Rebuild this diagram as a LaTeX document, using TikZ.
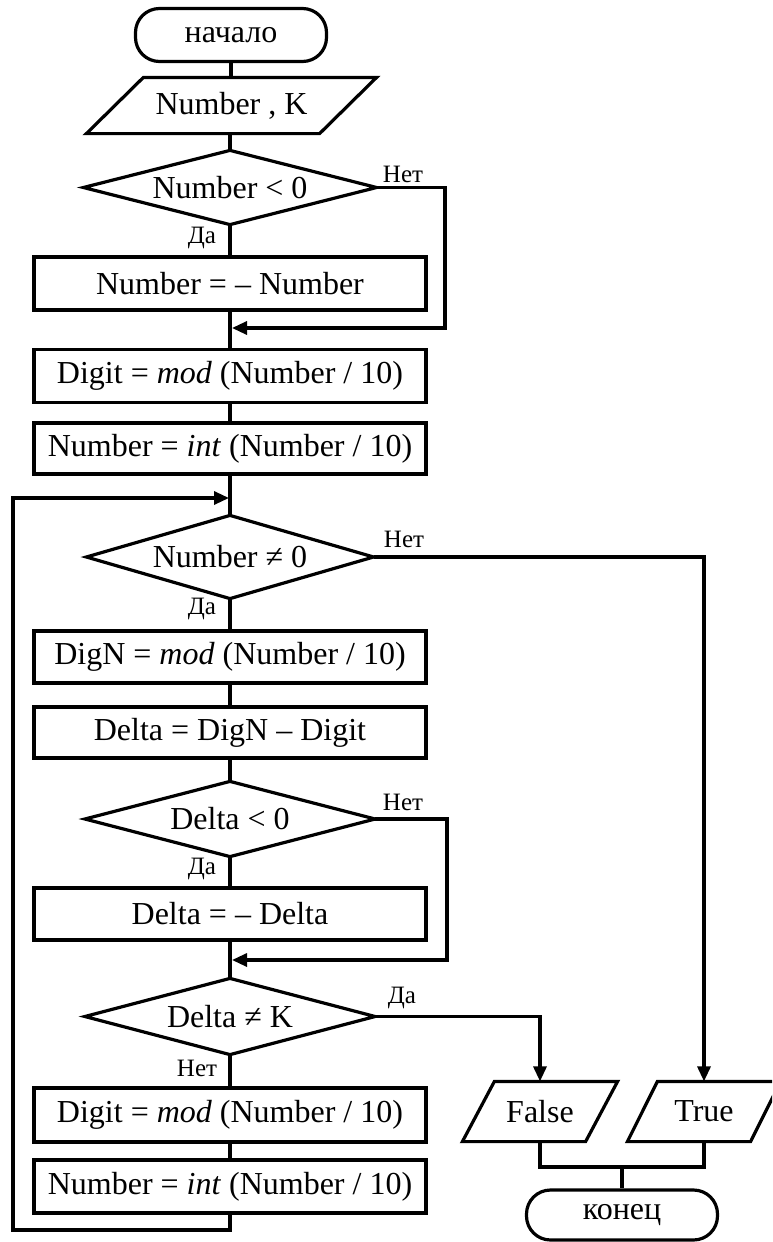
\documentclass[tikz,border=0pt]{standalone}
\usepackage{fontspec}
\setmainfont{Liberation Serif}
\usetikzlibrary{arrows.meta}
\begin{document}
\begin{tikzpicture}[x=1pt,y=-1pt,line width=3.2pt,
  every node/.style={font=\fontsize{32}{36}\selectfont,inner sep=0pt},
  proc/.style={draw,rectangle,minimum width=392pt,minimum height=53pt},
  term/.style={draw,rectangle,rounded corners=24pt,minimum width=191pt,minimum height=53pt},
  frame/.style={rectangle,minimum width=287pt,minimum height=72pt},
  lbl/.style={font=\fontsize{25}{28}\selectfont},
  arr/.style={-{Triangle[length=15pt,width=13pt]}}]
\useasboundingbox (0,0) rectangle (772,1242);
\begin{scope}
\clip (0,0) rectangle (772,1242);

% start and input
\node[term] (start) at (231,35) {начало};
\node[rectangle,minimum width=287pt,minimum height=53pt] (in) at (231.5,105.5) {Number , K};
\draw ([xshift=57pt]in.north west) -- (in.north east) -- ([xshift=-57pt]in.south east) -- (in.south west) -- cycle;

% first decision
\node[frame,minimum width=290pt,minimum height=71pt] (d1) at (230,187.5) {Number < 0};
\draw (d1.west) -- (d1.north) -- (d1.east) -- (d1.south) -- cycle;
\node[proc] (b1) at (230,283.5) {Number = – Number};
\node[proc] (b2) at (230,376) {Digit = \textit{mod} (Number / 10)};
\node[proc,minimum height=51pt] (b3) at (230,448.5) {Number = \textit{int} (Number / 10)};

% loop head
\node[frame,minimum width=284pt,minimum height=80pt] (d2) at (230,557) {Number ≠ 0};
\draw (d2.west) -- (d2.north) -- (d2.east) -- (d2.south) -- cycle;
\node[proc,minimum height=52pt] (b4) at (230,657) {DigN = \textit{mod} (Number / 10)};
\node[proc,minimum height=51pt] (b5) at (230,732.5) {Delta = DigN – Digit};
\node[frame] (d3) at (230,819) {Delta < 0};
\draw (d3.west) -- (d3.north) -- (d3.east) -- (d3.south) -- cycle;
\node[proc,minimum height=52pt] (b6) at (230,914) {Delta = – Delta};
\node[frame,minimum height=73pt] (d4) at (230,1016.5) {Delta ≠ K};
\draw (d4.west) -- (d4.north) -- (d4.east) -- (d4.south) -- cycle;
\node[proc,minimum height=54pt] (b7) at (230,1115) {Digit = \textit{mod} (Number / 10)};
\node[proc] (b8) at (230,1186.5) {Number = \textit{int} (Number / 10)};

% outputs and end
\node[rectangle,minimum width=152pt,minimum height=57pt] (f) at (540,1111.5) {False};
\draw ([xshift=32pt]f.north west) -- (f.north east) -- ([xshift=-32pt]f.south east) -- (f.south west) -- cycle;
\node[rectangle,minimum width=150pt,minimum height=57pt] (t) at (704,1111.5) {True};
\draw ([xshift=30pt]t.north west) -- (t.north east) -- ([xshift=-30pt]t.south east) -- (t.south west) -- cycle;
\node[term,minimum height=50pt] (end) at (622,1215) {конец};

% branch labels
\node[lbl] (n1) at (403,174) {Нет};
\node[lbl] (y1) at (202,238) {Да};
\node[lbl] (n2) at (404,539) {Нет};
\node[lbl] (y2) at (202,609) {Да};
\node[lbl] (n3) at (403,802) {Нет};
\node[lbl] (y3) at (202,869) {Да};
\node[lbl] (y4) at (402,998) {Да};
\node[lbl] (n4) at (197,1068) {Нет};

% main flow
\draw (start.south) -- (in.north -| start.south);
\draw (in.south -| d1.north) -- (d1.north);
\draw (d1.south) -- (b1.north);
\draw (b1.south) -- (b2.north);
\draw (b2.south) -- (b3.north);
\draw (b3.south) -- (d2.north);
\draw (d2.south) -- (b4.north);
\draw (b4.south) -- (b5.north);
\draw (b5.south) -- (d3.north);
\draw (d3.south) -- (b6.north);
\draw (b6.south) -- (d4.north);
\draw (d4.south) -- (b7.north);
\draw (b7.south) -- (b8.north);

% bypass branches
\coordinate (r1) at (445,328);
\coordinate (m1) at (232,328);
\draw[arr] (d1.east) -| (r1) -- (m1);
\coordinate (r3) at (447,960);
\coordinate (m3) at (232,960);
\draw[arr] (d3.east) -| (r3) -- (m3);

% loop back
\coordinate (lb) at (13,1230);
\coordinate (lt) at (229,498);
\draw[arr] (b8.south) |- (lb) |- (lt);

% exits
\draw[arr] (d2.east) -| (t.north);
\draw[arr] (d4.east) -| (f.north);
\coordinate (j) at (622,1167);
\draw (f.south) |- (j) -| (t.south);
\draw (j) -- (end.north);
\end{scope}
\end{tikzpicture}
\end{document}
